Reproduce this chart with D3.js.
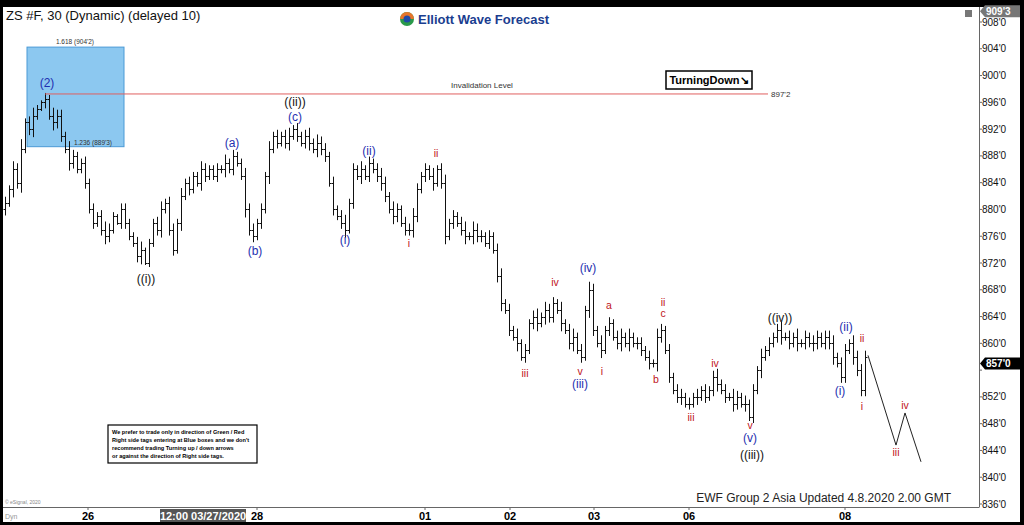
<!DOCTYPE html>
<html><head><meta charset="utf-8">
<script src="https://cdn.jsdelivr.net/npm/d3@7"></script>
<style>body{margin:0;background:#000;}svg{display:block;font-family:Arial,"Liberation Sans",sans-serif;}</style>
</head><body><svg id="c" width="1024" height="525"></svg>
<script>
const closes=[881,883,886,884,889,893,892,894,895,896,
896.5,894,893,894,891,889,887,888,886,887,
884,880,878,879,877,876,877,879,878,880,
878,876,875,873,874,872,875,878,877,880,
881,877,874,878,882,884,883,885,884,886,
885,886,885,886,886,887,886,888,887,885,
880,877,876,878,880,885,889,891,890,891,
890,891,892,891,890,891,890,889,890,889,
888,884,880,879,878,877,881,886,885,886,
885,887,886,885,884,882,880,879,880,878,
877,877,879,883,885,886,885,884,886,884,
876,878,879,878,877,876,876,877,876,876,
875,876,874,870,866,865,862,861,860,858,
859,863,864,863,864,865,864,866,865,863,
862,860,861,859,858,865,868,862,860,859,
862,863,861,860,861,860,861,860,860,859,
858,857,857,861,862,859,855,853,852,852,
851,851,852,852,853,852,853,855,854,853,
852,852,851,852,851,851,849,853,856,858,
859,860,861,862,861,861,860,861,860,860,
861,860,860,861,860,861,860,858,857,855,
859,860,858,856,853,858];
const spreads="3243523421324332432232323432133223412234233242322432232423224332324232342323424332323423242323432432334323242342323424332323423242323424332423423243242323424233232432323423242323423243242324232342324232432334233243".split("").map(Number);
const yTicks=[908,904,900,896,892,888,884,880,876,872,868,864,860,856,852,848,844,840,836];
const dateTicks=[{i:20.75,t:"26"},{i:63,t:"28"},{i:105,t:"01"},{i:126.25,t:"02"},{i:147.25,t:"03"},{i:171,t:"06"},{i:210,t:"08"}];
const labels=[
{t:"(2)",i:10.5,p:898.9,c:"#1f2fb0"},{t:"((ii))",i:72.5,p:896.0,c:"#111"},{t:"(c)",i:72.5,p:893.8,c:"#1f2fb0"},
{t:"(a)",i:56.75,p:889.9,c:"#1f2fb0"},{t:"(b)",i:62.5,p:873.8,c:"#1f2fb0"},{t:"((i))",i:35.25,p:869.6,c:"#111"},
{t:"(i)",i:85,p:875.4,c:"#1f2fb0"},{t:"(ii)",i:91,p:888.7,c:"#1f2fb0"},{t:"ii",i:107.75,p:888.4,c:"#c0141a"},
{t:"i",i:101,p:875,c:"#c0141a"},{t:"iii",i:130,p:855.6,c:"#c0141a"},{t:"iv",i:137.5,p:869.2,c:"#c0141a"},
{t:"v",i:143.75,p:855.9,c:"#c0141a"},{t:"(iii)",i:143.75,p:853.9,c:"#1f2fb0"},{t:"(iv)",i:145.75,p:871.3,c:"#1f2fb0"},
{t:"i",i:149.25,p:855.9,c:"#c0141a"},{t:"a",i:151,p:865.7,c:"#c0141a"},{t:"ii",i:164.5,p:866.2,c:"#c0141a"},
{t:"c",i:164.5,p:864.5,c:"#c0141a"},{t:"b",i:162.75,p:854.7,c:"#c0141a"},{t:"iii",i:171.5,p:849,c:"#c0141a"},
{t:"iv",i:177.5,p:857.1,c:"#c0141a"},{t:"v",i:186.25,p:847.8,c:"#c0141a"},{t:"(v)",i:186.25,p:845.9,c:"#1f2fb0"},
{t:"((iii))",i:186.75,p:843.3,c:"#111"},{t:"((iv))",i:193.75,p:863.8,c:"#111"},{t:"(i)",i:208.75,p:852.9,c:"#1f2fb0"},
{t:"(ii)",i:210.25,p:862.4,c:"#1f2fb0"},{t:"ii",i:214.25,p:860.8,c:"#c0141a"},{t:"i",i:214.25,p:850.6,c:"#c0141a"},
{t:"iii",i:222.75,p:843.8,c:"#c0141a"},{t:"iv",i:225,p:850.8,c:"#c0141a"}];
const projection=[{i:215.75,p:858.2},{i:222.75,p:844.8},{i:225,p:849.6},{i:229,p:842.3}];
const box={i0:5.5,i1:29.75,top:904.25,bot:889.375};
const invalidation={i0:10,i1:190.75,p:897.25};

const svg=d3.select("#c");
const x=d3.scaleLinear().domain([-0.5,243.5]).range([3,979]);
const y=d3.scaleLinear().domain([908,836]).range([22,504]);
svg.append("rect").attr("x",3).attr("y",7).attr("width",1017).attr("height",515).attr("fill","#fff");
svg.append("rect").attr("x",x(box.i0)).attr("y",y(box.top)).attr("width",x(box.i1)-x(box.i0)).attr("height",y(box.bot)-y(box.top)).attr("fill","#8cc8f0").attr("stroke","#4a9ad6");
svg.append("text").attr("x",x(box.i0)+48).attr("y",y(box.top)-3).attr("font-size",6.5).attr("text-anchor","middle").attr("fill","#333").text("1.618 (904'2)");
svg.append("text").attr("x",x(box.i0)+66).attr("y",y(box.bot)-2).attr("font-size",6.5).attr("text-anchor","middle").attr("fill","#333").text("1.236 (889'3)");
const g=svg.append("g").attr("stroke","#111").attr("stroke-width",1);
closes.forEach((c,i)=>{const o=i?closes[i-1]:c-1;const s=(spreads[i]||3)/2;const hi=Math.max(o,c)+s*0.6,lo=Math.min(o,c)-s*0.6;
 const xi=Math.round(x(i))+0.5;
 g.append("line").attr("x1",xi).attr("x2",xi).attr("y1",y(hi)).attr("y2",y(lo));
 g.append("line").attr("x1",xi-2).attr("x2",xi).attr("y1",Math.round(y(o))+.5).attr("y2",Math.round(y(o))+.5);
 g.append("line").attr("x1",xi).attr("x2",xi+2).attr("y1",Math.round(y(c))+.5).attr("y2",Math.round(y(c))+.5);
});
svg.append("line").attr("x1",x(invalidation.i0)).attr("x2",x(invalidation.i1)).attr("y1",y(invalidation.p)).attr("y2",y(invalidation.p)).attr("stroke","#e06060");
svg.append("text").attr("x",482).attr("y",y(invalidation.p)-6).attr("font-size",8).attr("text-anchor","middle").attr("fill","#333").text("Invalidation Level");
svg.append("text").attr("x",x(invalidation.i1)+3).attr("y",y(invalidation.p)+3).attr("font-size",8).attr("fill","#333").text("897'2");
svg.append("path").attr("d",d3.line().x(d=>x(d.i)).y(d=>y(d.p))(projection)).attr("fill","none").attr("stroke","#222");
svg.append("g").selectAll("text").data(labels).join("text").attr("x",d=>x(d.i)).attr("y",d=>y(d.p)+4).attr("text-anchor","middle").attr("font-size",d=>d.c=="#c0141a"?10.5:12).attr("fill",d=>d.c).text(d=>d.t);
svg.append("text").attr("x",6).attr("y",20).attr("font-size",13).attr("fill","#111").text("ZS #F, 30 (Dynamic) (delayed 10)");
const lg=svg.append("g");
lg.append("circle").attr("cx",407).attr("cy",19).attr("r",7).attr("fill","#2a9a4a");
lg.append("path").attr("d","M400,19 A7,7 0 0,1 414,19 Z").attr("fill","#e8752a");
lg.append("circle").attr("cx",407).attr("cy",19).attr("r",3.5).attr("fill","#1f4aa8");
lg.append("text").attr("x",418).attr("y",24).attr("font-size",13).attr("font-weight","bold").attr("fill","#1a3d8f").text("Elliott Wave Forecast");
svg.append("rect").attr("x",666).attr("y",71).attr("width",86).attr("height",18).attr("fill","#fff").attr("stroke","#000").attr("stroke-width",1.5);
svg.append("text").attr("x",709).attr("y",84).attr("text-anchor","middle").attr("font-size",11).attr("font-weight","bold").text("TurningDown↘");
svg.append("rect").attr("x",108).attr("y",425).attr("width",149).attr("height",38).attr("fill","#fff").attr("stroke","#000").attr("stroke-width",1.2);
["We prefer to trade only in direction of Green / Red","Right side tags entering at Blue boxes and we don't","recommend trading Turning up / down arrows","or against the direction of Right side tags."].forEach((t,k)=>svg.append("text").attr("x",112).attr("y",434+k*8).attr("font-size",5.6).attr("font-weight","bold").text(t));
svg.append("text").attr("x",5).attr("y",504).attr("font-size",5).attr("fill","#888").text("© eSignal, 2020");
svg.append("text").attr("x",951).attr("y",502).attr("text-anchor","end").attr("font-size",12).attr("fill","#222").text("EWF Group 2 Asia Updated 4.8.2020 2.00 GMT");
svg.append("line").attr("x1",979.5).attr("x2",979.5).attr("y1",7).attr("y2",507).attr("stroke","#666");
svg.append("line").attr("x1",3).attr("x2",979.5).attr("y1",507.5).attr("y2",507.5).attr("stroke","#666");
yTicks.forEach(v=>{svg.append("line").attr("x1",979).attr("x2",982).attr("y1",y(v)).attr("y2",y(v)).attr("stroke","#666");
 if(v!==856) svg.append("text").attr("x",982).attr("y",y(v)+3.5).attr("font-size",10).attr("fill","#111").text(v+"'0");});
dateTicks.forEach(d=>{svg.append("line").attr("x1",x(d.i)).attr("x2",x(d.i)).attr("y1",507).attr("y2",510).attr("stroke","#666");
 svg.append("text").attr("x",x(d.i)).attr("y",520).attr("text-anchor","middle").attr("font-size",11).attr("font-weight","bold").text(d.t);});
svg.append("rect").attr("x",160).attr("y",509).attr("width",86).attr("height",13).attr("fill","#555");
svg.append("text").attr("x",203).attr("y",520).attr("text-anchor","middle").attr("font-size",11).attr("font-weight","bold").attr("fill","#fff").text("12:00 03/27/2020");
svg.append("text").attr("x",5).attr("y",519).attr("font-size",7).attr("fill","#999").text("Dyn");
function tag(v,txt,fill){const yy=y(v);svg.append("path").attr("d",`M980,${yy} L985,${yy-6} L1020,${yy-6} L1020,${yy+6} L985,${yy+6} Z`).attr("fill",fill);
 svg.append("text").attr("x",986).attr("y",yy+4).attr("font-size",10).attr("font-weight","bold").attr("fill","#fff").text(txt);}
tag(909.6,"909'3","#777");tag(857,"857'0","#000");
svg.append("rect").attr("x",965).attr("y",10).attr("width",7).attr("height",7).attr("fill","#777");
</script></body></html>
